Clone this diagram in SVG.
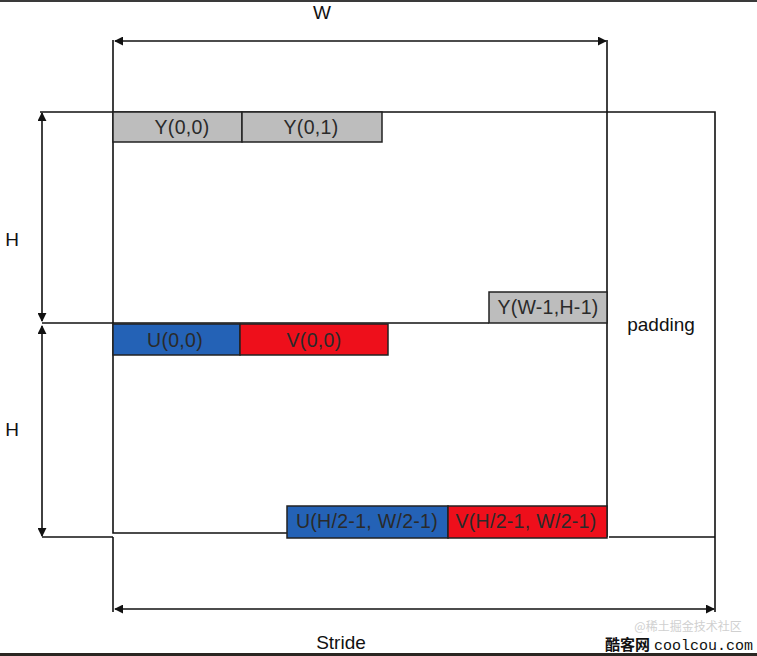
<svg xmlns="http://www.w3.org/2000/svg" width="757" height="656" viewBox="0 0 757 656">
<style>
.ln{stroke:#111;stroke-width:1.6;fill:none}
.lbl{font-family:"Liberation Sans",Arial,sans-serif;font-size:19px;fill:#111;text-anchor:middle}
.bt{font-family:"Liberation Sans",Arial,sans-serif;font-size:19.5px;fill:#2a2a2a;text-anchor:middle;letter-spacing:0.3px}
.box{stroke:#222;stroke-width:1.5}
.g{fill:#bdbdbd}.u{fill:#2462b6}.v{fill:#ee0f1b}
</style>
<defs>
<marker id="ah" viewBox="0 0 10 10" refX="9" refY="5" markerWidth="9" markerHeight="9" orient="auto-start-reverse" markerUnits="userSpaceOnUse">
<path d="M0,0 L10,5 L0,10 Z" fill="#111"/>
</marker>
</defs>
<rect x="0" y="0" width="757" height="656" fill="#fff"/>
<rect x="0" y="0" width="757" height="2" fill="#3a3a3a"/>
<rect x="0" y="653" width="757" height="3" fill="#2a2622"/>
<g id="frame">
<path class="ln" d="M113,40 V533 H287"/>
<path class="ln" d="M113,537 V612"/>
<path class="ln" d="M40,112 H715 V612"/>
<path class="ln" d="M607,40 V537"/>
<path class="ln" d="M42,323 H489"/>
<path class="ln" d="M42,537 H113"/>
<path class="ln" d="M609,537 H715"/>
</g>
<g id="connectors">
<line class="ln" x1="115" y1="41" x2="606" y2="41" marker-start="url(#ah)" marker-end="url(#ah)"/>
<line class="ln" x1="42" y1="113" x2="42" y2="321" marker-start="url(#ah)" marker-end="url(#ah)"/>
<line class="ln" x1="42" y1="326" x2="42" y2="536" marker-start="url(#ah)" marker-end="url(#ah)"/>
<line class="ln" x1="115" y1="609" x2="714" y2="609" marker-start="url(#ah)" marker-end="url(#ah)"/>
</g>
<g id="y00"><rect class="box g" x="113" y="112" width="129" height="30"/><text class="bt" x="182" y="134">Y(0,0)</text></g>
<g id="y01"><rect class="box g" x="242" y="112" width="140" height="30"/><text class="bt" x="311" y="134">Y(0,1)</text></g>
<g id="ywh"><rect class="box g" x="489" y="292" width="118" height="31"/><text class="bt" x="548" y="314">Y(W-1,H-1)</text></g>
<g id="u00"><rect class="box u" x="113" y="324" width="127" height="31"/><text class="bt" x="175" y="347">U(0,0)</text></g>
<g id="v00"><rect class="box v" x="240" y="324" width="148" height="31"/><text class="bt" x="314" y="347">V(0,0)</text></g>
<g id="uhw"><rect class="box u" x="287" y="506" width="161" height="32"/><text class="bt" x="367" y="528">U(H/2-1, W/2-1)</text></g>
<g id="vhw"><rect class="box v" x="448" y="506" width="159" height="32"/><text class="bt" x="526" y="528">V(H/2-1, W/2-1)</text></g>
<g id="labels">
<text class="lbl" x="322" y="19">W</text>
<text class="lbl" x="12" y="246">H</text>
<text class="lbl" x="12" y="436">H</text>
<text class="lbl" x="661" y="331">padding</text>
<text class="lbl" x="341" y="649">Stride</text>
<text x="688" y="631" font-family="'Noto Sans CJK SC',sans-serif" font-size="12" fill="#d0d0d0" text-anchor="middle">@稀土掘金技术社区</text>
<text x="605" y="650" font-family="'Noto Sans CJK SC',sans-serif" font-size="15" font-weight="bold" fill="#111">酷客网</text>
<text x="654" y="650" font-family="'Liberation Mono',monospace" font-size="15" fill="#111">coolcou.com</text>
</g>
</svg>
